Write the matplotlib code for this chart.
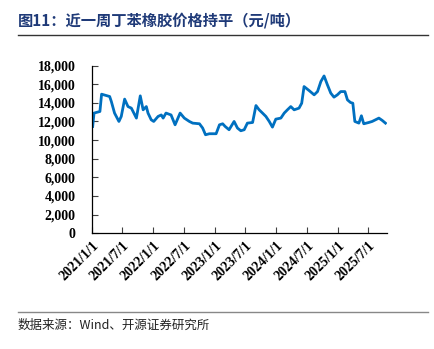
import numpy as np
import pandas as pd
import matplotlib
matplotlib.use('Agg')
import matplotlib.pyplot as plt
import matplotlib.dates as mdates

dates = ['2021-01-05', '2021-01-13', '2021-02-17', '2021-02-27', '2021-04-16', '2021-04-26',
         '2021-05-15', '2021-06-10', '2021-06-24', '2021-07-14', '2021-08-03', '2021-08-23',
         '2021-09-22', '2021-10-15', '2021-11-01', '2021-11-20', '2021-11-30', '2021-12-19',
         '2022-01-03', '2022-01-29', '2022-02-17', '2022-02-28', '2022-03-17', '2022-04-16',
         '2022-05-10', '2022-06-09', '2022-07-04', '2022-08-03', '2022-08-23', '2022-10-02',
         '2022-10-21', '2022-11-07', '2022-11-30', '2023-01-09', '2023-01-29', '2023-02-17',
         '2023-03-04', '2023-03-27', '2023-04-26', '2023-05-16', '2023-06-05', '2023-06-25',
         '2023-07-14', '2023-08-14', '2023-09-03', '2023-09-22', '2023-10-12', '2023-11-01',
         '2023-11-21', '2023-12-10', '2023-12-30', '2024-01-29', '2024-02-18', '2024-03-08',
         '2024-03-28', '2024-04-17', '2024-05-16', '2024-06-01', '2024-06-15', '2024-07-15',
         '2024-08-14', '2024-09-03', '2024-09-23', '2024-10-12', '2024-11-01', '2024-11-21',
         '2024-12-10', '2024-12-30', '2025-01-19', '2025-02-13', '2025-02-28', '2025-03-18',
         '2025-04-01', '2025-04-13', '2025-05-07', '2025-05-22', '2025-06-05', '2025-07-05',
         '2025-07-25', '2025-08-14', '2025-09-03', '2025-09-23', '2025-10-12']
prices = [11460, 12900, 13070, 14930, 14680, 14140,
          12900, 12000, 12540, 14400, 13600, 13430,
          12360, 14750, 13250, 13600, 12900, 12180,
          12000, 12540, 12700, 12360, 12900, 12700,
          11640, 12900, 12360, 12000, 11820, 11750,
          11290, 10570, 10680, 10680, 11640, 11750,
          11460, 11110, 12000, 11290, 11000, 11110,
          11820, 11890, 13710, 13250, 12900, 12540,
          12000, 11390, 12250, 12360, 12900, 13250,
          13600, 13250, 13430, 13960, 15750, 15320,
          14860, 15210, 16290, 16890, 15930, 15040,
          14610, 14860, 15210, 15210, 14320, 14040,
          13960, 12000, 11820, 12610, 11750, 11890,
          12000, 12180, 12360, 12110, 11820]
tick_dates = ['2021-01-01', '2021-07-01', '2022-01-01', '2022-07-01', '2023-01-01',
              '2023-07-01', '2024-01-01', '2024-07-01', '2025-01-01', '2025-07-01']
tick_labels = ['2021/1/1', '2021/7/1', '2022/1/1', '2022/7/1', '2023/1/1',
               '2023/7/1', '2024/1/1', '2024/7/1', '2025/1/1', '2025/7/1']
yticks = list(range(0, 18001, 2000))

title = '图11：近一周丁苯橡胶价格持平（元/吨）'
source = '数据来源：Wind、开源证券研究所'

plt.rcParams['font.family'] = ['Liberation Serif', 'Noto Sans CJK SC']

fig = plt.figure(figsize=(4.34, 3.49), dpi=100)
ax = fig.add_axes([0.212, 0.332, 0.68, 0.48])

x = pd.to_datetime(dates)
ax.plot(x, prices, color='#0070C0', linewidth=2.0)

ax.set_ylim(0, 18000)
ax.set_xlim(pd.Timestamp('2021-01-01'), pd.Timestamp('2025-10-22'))
ax.set_yticks(yticks)
ax.set_yticklabels([f'{v:,}' for v in yticks], fontweight='bold', fontsize=10)
ax.set_xticks(pd.to_datetime(tick_dates))
ax.set_xticklabels(tick_labels, rotation=45, ha='right', rotation_mode='anchor',
                   fontweight='bold', fontsize=10)
ax.tick_params(direction='in', length=4, width=0.8, color='#404040', pad=4)
ax.tick_params(axis='y', pad=12)
for s in ['top', 'right']:
    ax.spines[s].set_visible(False)
for s in ['left', 'bottom']:
    ax.spines[s].set_color('#000000')
    ax.spines[s].set_linewidth(0.9)

fig.text(0.041, 0.942, title, fontsize=11, fontweight='bold', color='#1F3A78',
         family=['Noto Sans CJK SC'], va='center')
fig.add_artist(plt.Line2D([0.041, 0.987], [0.899, 0.899], color='#333333', linewidth=1.0))
fig.add_artist(plt.Line2D([0.041, 0.987], [0.107, 0.107], color='#888888', linewidth=1.0))
fig.text(0.041, 0.068, source, fontsize=9, color='#222222',
         family=['Noto Sans CJK SC', 'Liberation Serif'], va='center')

fig.savefig('out.png', dpi=100)
